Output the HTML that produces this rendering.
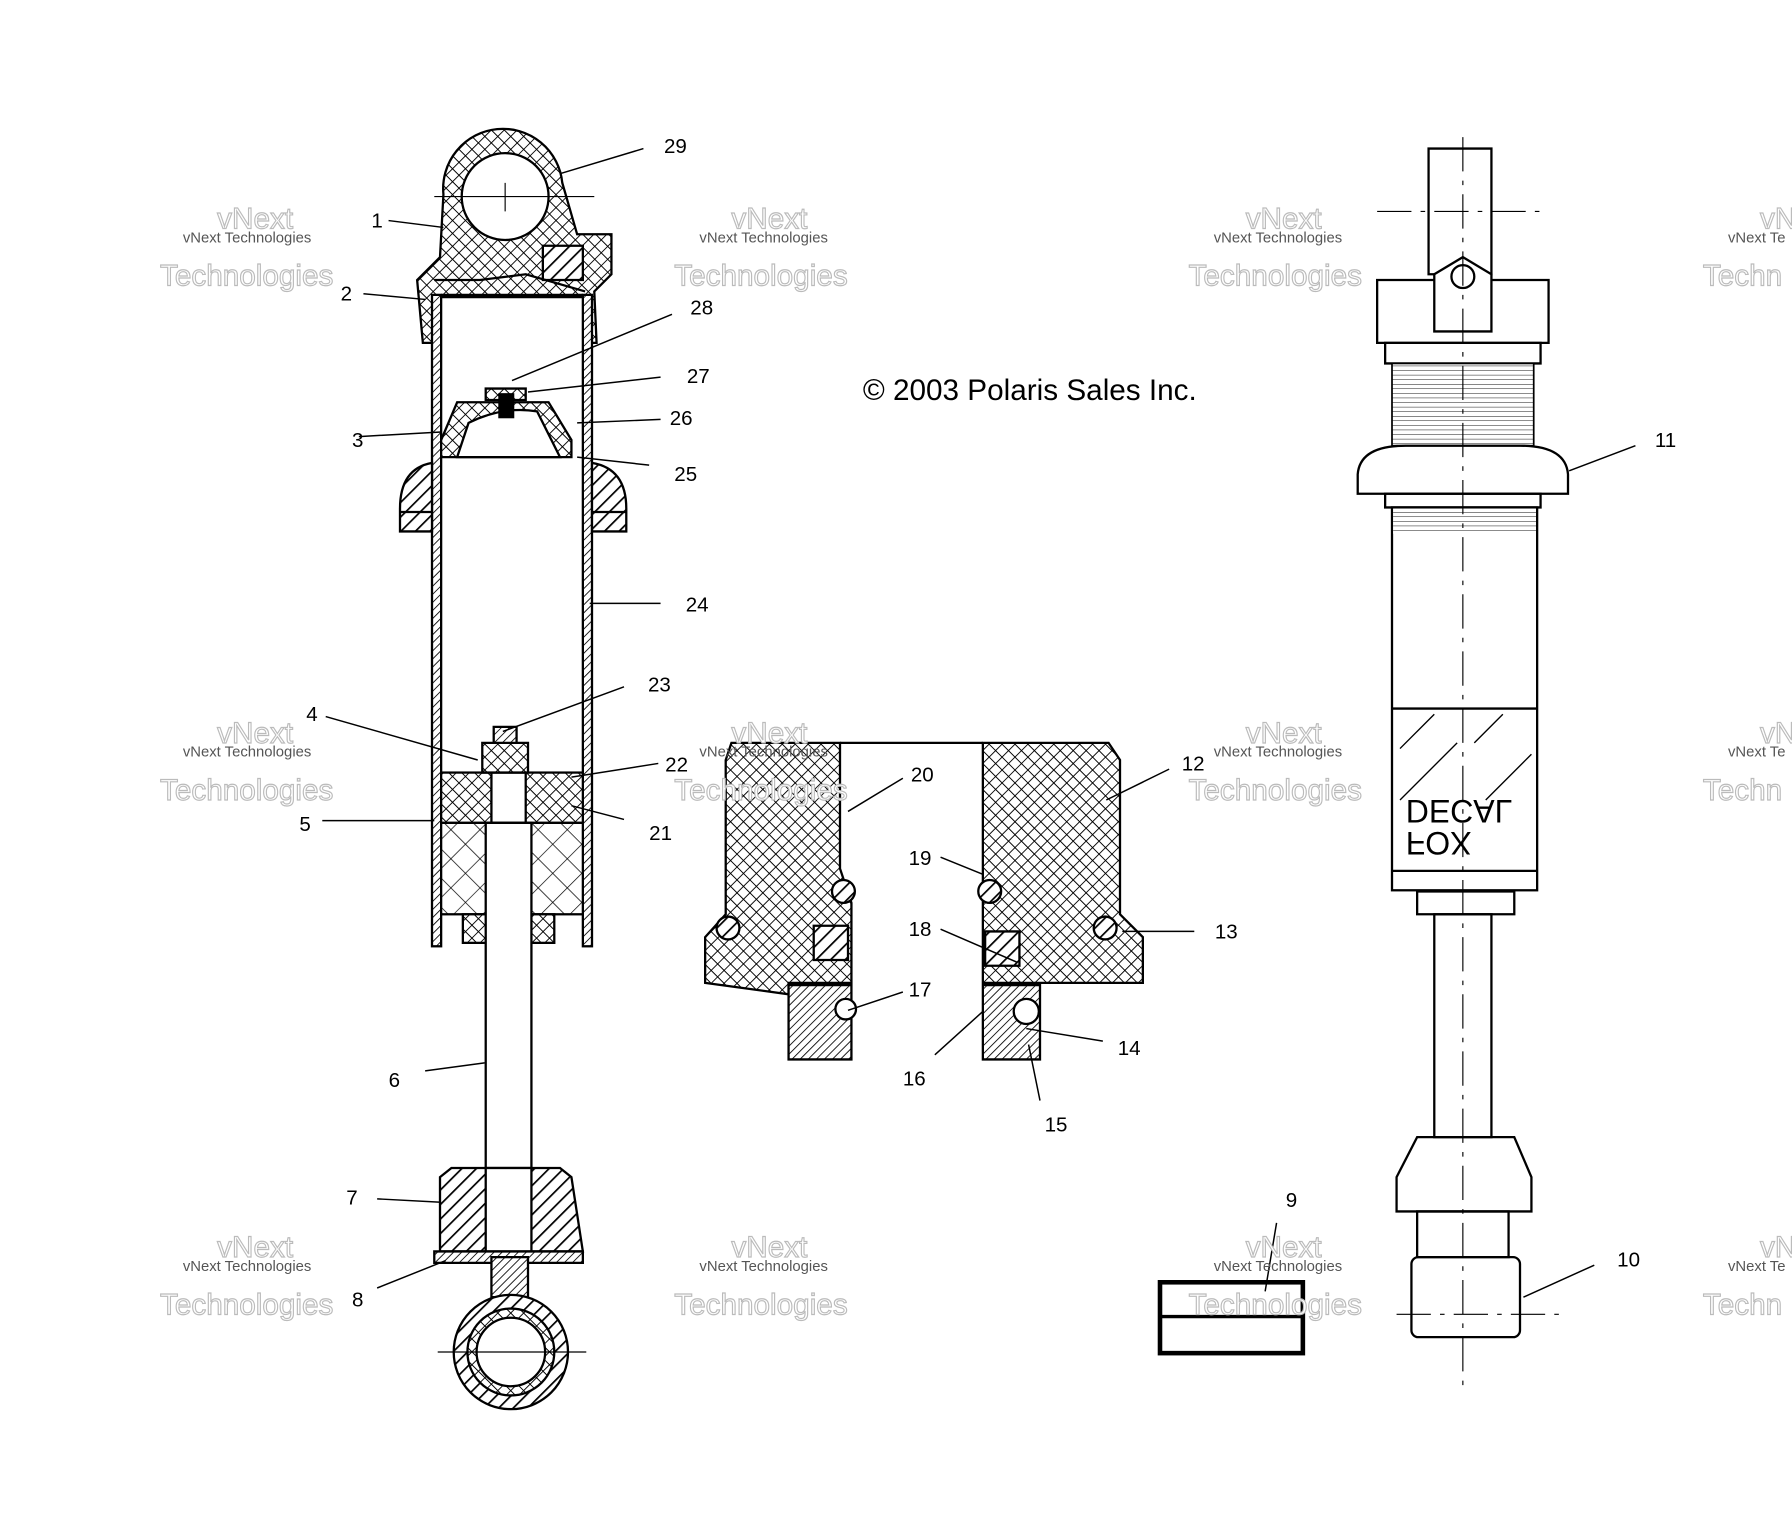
<!DOCTYPE html>
<html><head><meta charset="utf-8"><style>
html,body{margin:0;padding:0;background:#fff;}
svg{display:block;}
text{font-family:"Liberation Sans",sans-serif;}
</style></head><body>
<svg width="1792" height="1536" viewBox="0 0 1568 1344" xmlns="http://www.w3.org/2000/svg">
<defs>
<pattern id="ch" width="8" height="8" patternUnits="userSpaceOnUse" patternTransform="rotate(45)">
<rect width="8" height="8" fill="#fff"/><path d="M0 0H8M0 0V8" stroke="#000" stroke-width="1.6"/></pattern>
<pattern id="hc" width="18" height="18" patternUnits="userSpaceOnUse" patternTransform="rotate(45)">
<rect width="18" height="18" fill="#fff"/><path d="M0 0H18M0 0V18" stroke="#000" stroke-width="1.2"/></pattern>
<pattern id="dh" width="9" height="9" patternUnits="userSpaceOnUse" patternTransform="rotate(45)">
<rect width="9" height="9" fill="#fff"/><path d="M0 0V9" stroke="#000" stroke-width="3"/></pattern>
<pattern id="th" width="5" height="5" patternUnits="userSpaceOnUse" patternTransform="rotate(45)">
<rect width="5" height="5" fill="#fff"/><path d="M0 0V5" stroke="#000" stroke-width="1.5"/></pattern>
<pattern id="hl" width="10" height="4" patternUnits="userSpaceOnUse">
<rect width="10" height="4" fill="#fff"/><path d="M0 0H10" stroke="#000" stroke-width="0.8"/></pattern>
</defs>
<g fill="none" stroke="#000" stroke-width="2">
<path d="M388 170 A52 52 0 0 1 492 160 L505 205 L535 205 L535 240 L520 255 L522 300 L512 300 L512 260 L380 260 L380 300 L370 300 L365 245 L385 225 Z" fill="url(#ch)"/>
<circle cx="442" cy="172" r="38" fill="#fff"/>
<path d="M475 215h35v30h-35z" fill="url(#dh)"/>
<path d="M380 245 L420 245 L460 240 L512 255"/>
<rect x="378" y="258" width="8" height="570" fill="url(#th)"/>
<rect x="510" y="258" width="8" height="570" fill="url(#th)"/>
<path d="M386 258h124"/>
<path d="M386 385 L400 352 L480 352 L500 385 L500 400 L386 400 Z" fill="url(#ch)"/>
<path d="M400 400 L410 370 Q440 355 470 360 L490 400 Z" fill="#fff"/>
<path d="M425 340 h35 v10 h-35z" fill="url(#ch)"/><rect x="437" y="345" width="12" height="20" fill="#000"/>
<path d="M350 445 Q350 410 378 405 L378 465 L350 465Z" fill="url(#dh)"/>
<path d="M548 445 Q548 410 518 405 L518 465 L548 465Z" fill="url(#dh)"/>
<path d="M350 448h28M518 448h30"/>
<rect x="386" y="676" width="124" height="44" fill="url(#ch)"/>
<rect x="430" y="676" width="30" height="44" fill="#fff"/>
<path d="M422 650h40v26h-40z" fill="url(#ch)"/>
<path d="M432 636h20v14h-20z" fill="url(#th)"/>
<rect x="386" y="720" width="124" height="80" fill="url(#hc)"/>
<rect x="405" y="800" width="80" height="25" fill="url(#ch)"/>
<rect x="425" y="720" width="40" height="310" fill="#fff"/>
<path d="M385 1030 L395 1022 L490 1022 L500 1030 L510 1095 L385 1095Z" fill="url(#dh)"/>
<rect x="425" y="1022" width="40" height="73" fill="#fff"/>
<path d="M380 1095h130v10H380z" fill="url(#th)"/>
<rect x="430" y="1100" width="32" height="35" fill="url(#th)"/>
<circle cx="447" cy="1183" r="50" fill="url(#dh)"/><circle cx="447" cy="1183" r="38" fill="url(#ch)"/><circle cx="447" cy="1183" r="30" fill="#fff"/>
<path d="M383 1183h130M380 172h140M442 160v25" stroke-width="1"/>
<path d="M640 650 L735 650 L735 760 L745 790 L745 860 L710 860 L690 860 L690 870 L617 860 L617 820 L635 800 L635 665Z" fill="url(#ch)"/>
<path d="M690 862h55v65h-55z" fill="url(#th)"/>
<path d="M970 650 L860 650 L860 860 L920 860 L1000 860 L1000 820 L980 800 L980 665Z" fill="url(#ch)"/>
<path d="M860 862h50v65h-50z" fill="url(#th)"/>
<path d="M735 650H860"/>
<circle cx="738" cy="780" r="10" fill="url(#dh)"/><circle cx="866" cy="780" r="10" fill="url(#dh)"/>
<circle cx="637" cy="812" r="10" fill="url(#dh)"/><circle cx="967" cy="812" r="10" fill="url(#dh)"/>
<path d="M712 810h30v30h-30zM862 815h30v30h-30z" fill="url(#dh)"/>
<circle cx="740" cy="883" r="9" fill="#fff"/><circle cx="898" cy="885" r="11" fill="#fff"/>
<path d="M1250 130h55v110h-55z"/>
<path d="M1205 245h150v55h-150z"/><path d="M1212 300h136v18h-136z"/>
<rect x="1218" y="318" width="124" height="72" fill="url(#hl)" stroke-width="1.5"/>
<path d="M1188 432 L1188 415 Q1190 390 1230 390 L1330 390 Q1370 390 1372 415 L1372 432Z" fill="#fff"/>
<path d="M1212 432h136v12h-136z"/>
<rect x="1218" y="444" width="127" height="335"/>
<rect x="1219" y="445" width="125" height="22" fill="url(#hl)" stroke="none"/>
<path d="M1218 620h127M1218 762h127"/>
<path d="M1225 655l30-30M1225 700l50-50M1290 650l25-25M1300 700l40-40" stroke-width="1.2"/>
<path d="M1240 780h85v20h-85z"/>
<rect x="1255" y="800" width="50" height="195"/>
<path d="M1222 1030 L1240 995 L1325 995 L1340 1030 L1340 1060 L1222 1060Z"/>
<path d="M1240 1060h80v40h-80z"/>
<rect x="1235" y="1100" width="95" height="70" rx="6"/>
<path d="M1255 240 L1280 225 L1305 240 L1305 290 L1255 290Z" fill="#fff"/><circle cx="1280" cy="242" r="10"/>
<path d="M1205 185h150M1280 120v1100M1222 1150h145" stroke-width="1" stroke-dasharray="30 8 4 8"/>
<rect x="1015" y="1122" width="125" height="62" stroke-width="4"/><path d="M1015 1152h125" stroke-width="3"/>
</g>
<g stroke="#000" stroke-width="1.3">
<path d="M490 152L563 130M340 193L388 199M318 257L372 262M448 333L588 275M462 343L578 330M505 370L578 367M314 382L386 378M505 400L568 407M516 528L578 528M440 640L546 601M285 627L418 665M500 680L576 668M500 705L546 717M282 718L380 718M372 937L424 930M330 1049L386 1052M330 1127L390 1103M742 710L790 681M968 700L1023 673M860 765L823 750M890 842L823 813M742 884L790 868M860 885L818 923M898 900L965 911M900 914L910 963M982 815L1045 815M1117 1070L1107 1130M1373 412L1431 390M1333 1135L1395 1107"/>
</g>
<g font-size="18" fill="#000">
<text x="581" y="134">29</text><text x="325" y="199">1</text><text x="298" y="263">2</text>
<text x="604" y="275">28</text><text x="601" y="335">27</text><text x="586" y="372">26</text>
<text x="308" y="391">3</text><text x="590" y="421">25</text><text x="600" y="535">24</text>
<text x="567" y="605">23</text><text x="268" y="631">4</text><text x="582" y="675">22</text>
<text x="262" y="727">5</text><text x="568" y="735">21</text><text x="340" y="951">6</text>
<text x="303" y="1054">7</text><text x="308" y="1143">8</text>
<text x="797" y="684">20</text><text x="1034" y="674">12</text><text x="795" y="757">19</text>
<text x="1063" y="821">13</text><text x="795" y="819">18</text><text x="795" y="872">17</text>
<text x="978" y="923">14</text><text x="790" y="950">16</text><text x="914" y="990">15</text>
<text x="1125" y="1056">9</text><text x="1448" y="391">11</text><text x="1415" y="1108">10</text>
<text x="755" y="350" font-size="26">© 2003 Polaris Sales Inc.</text>
<g transform="translate(0 1450) scale(1 -1)" font-size="28">
<text x="1230" y="722">FOX</text><text x="1230" y="750">DECAL</text></g>
</g>
<g fill="#fff" stroke="#bbb" stroke-width="1" font-size="26">
<text x="140" y="250">Technologies</text><text x="590" y="250">Technologies</text><text x="1040" y="250">Technologies</text><text x="1490" y="250">Techn</text>
<text x="140" y="700">Technologies</text><text x="590" y="700">Technologies</text><text x="1040" y="700">Technologies</text><text x="1490" y="700">Techn</text>
<text x="140" y="1150">Technologies</text><text x="590" y="1150">Technologies</text><text x="1040" y="1150">Technologies</text><text x="1490" y="1150">Techn</text>
<text x="190" y="200">vNext</text><text x="640" y="200">vNext</text><text x="1090" y="200">vNext</text><text x="1540" y="200">vNext</text>
<text x="190" y="650">vNext</text><text x="640" y="650">vNext</text><text x="1090" y="650">vNext</text><text x="1540" y="650">vNext</text>
<text x="190" y="1100">vNext</text><text x="640" y="1100">vNext</text><text x="1090" y="1100">vNext</text><text x="1540" y="1100">vNext</text>
</g>
<g fill="#555" font-size="13" font-family="Liberation Serif">
<text x="160" y="212">vNext Technologies</text><text x="612" y="212">vNext Technologies</text><text x="1062" y="212">vNext Technologies</text><text x="1512" y="212">vNext Te</text>
<text x="160" y="662">vNext Technologies</text><text x="612" y="662">vNext Technologies</text><text x="1062" y="662">vNext Technologies</text><text x="1512" y="662">vNext Te</text>
<text x="160" y="1112">vNext Technologies</text><text x="612" y="1112">vNext Technologies</text><text x="1062" y="1112">vNext Technologies</text><text x="1512" y="1112">vNext Te</text>
</g>
</svg>
</body></html>
